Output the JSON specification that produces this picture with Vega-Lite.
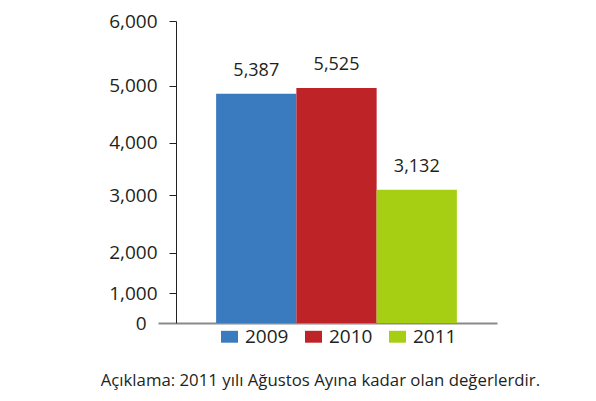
{
  "$schema": "https://vega.github.io/schema/vega-lite/v6.json",
  "width": 321,
  "height": 302,
  "autosize": "none",
  "padding": {"left": 176, "top": 21, "right": 99, "bottom": 78},
  "background": "white",
  "config": {"view": {"stroke": null}, "font": "Open Sans"},
  "title": {
    "text": "Açıklama: 2011 yılı Ağustos Ayına kadar olan değerlerdir.",
    "orient": "bottom",
    "anchor": "start",
    "dx": -8,
    "offset": 26,
    "fontSize": 16.8,
    "fontWeight": "normal",
    "color": "#231f20"
  },
  "data": {
    "values": [
      {"year": "2009", "value": 5387},
      {"year": "2010", "value": 5525},
      {"year": "2011", "value": 3132}
    ]
  },
  "encoding": {
    "x": {
      "field": "year",
      "type": "nominal",
      "scale": {"paddingInner": 0, "paddingOuter": 0.5},
      "axis": {"labels": false, "ticks": false, "title": null, "domainColor": "#8a8a8a", "domainWidth": 2}
    },
    "y": {
      "field": "value",
      "type": "quantitative",
      "scale": {"domain": [0, 7100], "nice": false},
      "axis": {
        "title": null,
        "grid": false,
        "values": [0, 705, 1646, 3009, 4232, 5572, 7100],
        "labelExpr": "datum.value == 7100 ? '6,000' : datum.value == 5572 ? '5,000' : datum.value == 4232 ? '4,000' : datum.value == 3009 ? '3,000' : datum.value == 1646 ? '2,000' : datum.value == 705 ? '1,000' : '0'",
        "domainColor": "#231f20",
        "tickColor": {"condition": {"test": "datum.value == 0", "value": "#8a8a8a"}, "value": "#231f20"},
        "tickWidth": {"condition": {"test": "datum.value == 0", "value": 2}, "value": 1},
        "tickSize": {"condition": {"test": "datum.value == 0", "value": 18}, "value": 7},
        "labelFontSize": 19,
        "labelColor": "#231f20",
        "labelPadding": 12
      }
    }
  },
  "layer": [
    {
      "mark": {"type": "bar"},
      "encoding": {
        "color": {
          "field": "year",
          "type": "nominal",
          "scale": {"range": ["#3a7abf", "#be2328", "#a6ce12"]},
          "legend": {
            "orient": "none",
            "direction": "horizontal",
            "legendX": 44,
            "legendY": 306,
            "title": null,
            "symbolType": "M-1,-0.7H1V0.7H-1Z",
            "symbolSize": 289,
            "symbolStrokeWidth": 0,
            "symbolOpacity": 1,
            "labelFontSize": 19,
            "labelColor": "#231f20",
            "labelOffset": 6,
            "columnPadding": 15
          }
        }
      }
    },
    {
      "mark": {"type": "text", "dy": -14, "fontSize": 18, "color": "#231f20", "baseline": "bottom"},
      "encoding": {
        "text": {"field": "value", "type": "quantitative", "format": ",d"}
      }
    }
  ]
}
